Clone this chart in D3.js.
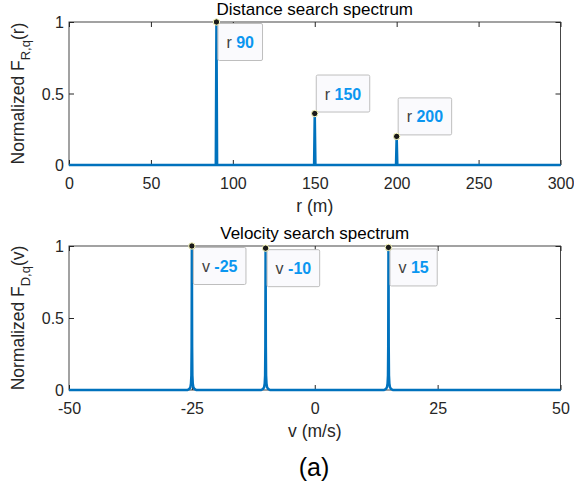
<!DOCTYPE html>
<html>
<head>
<meta charset="utf-8">
<script src="https://cdn.jsdelivr.net/npm/d3@7"></script>
<style>
  html, body { margin: 0; padding: 0; background: #fff; }
  svg { display: block; font-family: "Liberation Sans", Arial, Helvetica, sans-serif; }
</style>
</head>
<body>
<svg id="chart" width="574" height="488"></svg>
<script>
// ---- Data ----
const rSamples = [0, 89.6, 90, 90.4, 149.6, 150, 150.4, 199.6, 200, 200.4, 300];
const fRValues = [0, 0, 1, 0, 0, 0.36, 0, 0, 0.2, 0, 0];

const vSamples = [-50,
  -25.9, -25.5, -25.3, -25.18, -25.1, -25.05, -25, -24.95, -24.9, -24.82, -24.7, -24.5, -24.1,
  -10.9, -10.5, -10.3, -10.18, -10.1, -10.05, -10, -9.95, -9.9, -9.82, -9.7, -9.5, -9.1,
  14.1, 14.5, 14.7, 14.82, 14.9, 14.95, 15, 15.05, 15.1, 15.18, 15.3, 15.5, 15.9,
  50];
const fDValues = [0,
  0, 0.008, 0.02, 0.045, 0.1, 0.3, 1, 0.3, 0.1, 0.045, 0.02, 0.008, 0,
  0, 0.008, 0.02, 0.045, 0.1, 0.3, 0.985, 0.3, 0.1, 0.045, 0.02, 0.008, 0,
  0, 0.008, 0.02, 0.045, 0.1, 0.3, 0.99, 0.3, 0.1, 0.045, 0.02, 0.008, 0,
  0];

const rTicks = [0, 50, 100, 150, 200, 250, 300];
const vTicks = [-50, -25, 0, 25, 50];
const yTicks = [0, 0.5, 1];

const rTipX = [90, 150, 200];
const rTipY = [1, 0.36, 0.2];
const vTipX = [-25, -10, 15];
const vTipY = [1, 0.985, 0.99];

// ---- Drawing ----
const svg = d3.select("#chart");
const FONT_TICK = 16, FONT_LABEL = 17.5;
const AX = "#262626";
const LINE = "#0072BD";
const fmt = d => String(d);  // plain hyphen-minus, as in the reference

function panel(opts) {
  const { left, right, top, bottom, xDomain, xTicks, xs, ys, title, xlabel, ysub, yarg, tipsX, tipsY, tipName } = opts;
  const x = d3.scaleLinear().domain(xDomain).range([left, right]);
  const y = d3.scaleLinear().domain([0, 1]).range([bottom, top]);
  const g = svg.append("g");

  g.append("rect").attr("x", left).attr("y", top)
    .attr("width", right - left).attr("height", bottom - top)
    .attr("fill", "none").attr("stroke", AX).attr("stroke-width", 1).attr("stroke-opacity", 0.85);

  const xb = d3.axisBottom(x).tickValues(xTicks).tickSize(-5).tickFormat(fmt);
  const xt = d3.axisTop(x).tickValues(xTicks).tickSize(-5).tickFormat("");
  const yl = d3.axisLeft(y).tickValues(yTicks).tickSize(-5).tickFormat(fmt);
  const yr = d3.axisRight(y).tickValues(yTicks).tickSize(-5).tickFormat("");

  const styleAxis = sel => {
    sel.select(".domain").remove();
    sel.selectAll(".tick line").attr("stroke", AX).attr("stroke-width", 1);
    sel.selectAll(".tick text").attr("fill", AX).style("font-size", FONT_TICK + "px")
      .style("font-family", '"Liberation Sans", Arial, Helvetica, sans-serif');
  };
  g.append("g").attr("transform", `translate(0,${bottom})`).call(xb).call(styleAxis)
    .selectAll(".tick text").attr("dy", null).attr("y", 23.5);
  g.append("g").attr("transform", `translate(0,${top})`).call(xt).call(styleAxis);
  g.append("g").attr("transform", `translate(${left},0)`).call(yl).call(styleAxis)
    .selectAll(".tick text").attr("x", -5).attr("dy", "0.35em");
  g.append("g").attr("transform", `translate(${right},0)`).call(yr).call(styleAxis);

  const pts = xs.map((d, i) => [d, ys[i]]);
  g.append("path").datum(pts)
    .attr("fill", "none").attr("stroke", LINE).attr("stroke-width", 2.5)
    .attr("stroke-linejoin", "round")
    .attr("d", d3.line().x(d => x(d[0])).y(d => y(d[1])));

  g.append("text").attr("x", (left + right) / 2).attr("y", top - 7)
    .attr("text-anchor", "middle").attr("fill", "#000").style("font-size", "17px")
    .text(title);

  g.append("text").attr("x", (left + right) / 2).attr("y", bottom + 46.5)
    .attr("text-anchor", "middle").attr("fill", AX).style("font-size", FONT_LABEL + "px")
    .text(xlabel);

  const yt = g.append("text")
    .attr("transform", `translate(23.5,${(top + bottom) / 2}) rotate(-90)`)
    .attr("text-anchor", "middle").attr("fill", AX).style("font-size", FONT_LABEL + "px");
  yt.append("tspan").text("Normalized F");
  yt.append("tspan").attr("dy", 6).style("font-size", "13px").text(ysub);
  yt.append("tspan").attr("dy", -6).text(yarg);

  tipsX.forEach((tx, i) => {
    const px = x(tx), py = y(tipsY[i]);
    const below = tipsY[i] > 0.8;
    const tg = g.append("g");
    const t = tg.append("text").style("font-size", "16px");
    t.append("tspan").attr("fill", "#404040").text(tipName + " ");
    t.append("tspan").attr("fill", "#0A96F0").attr("font-weight", "bold").text(fmt(tx));
    const w = t.node().getComputedTextLength();
    const bw = w + 17, bh = 37;
    const bx = px + 1.5;
    const by = below ? py + 1.5 : py - 1.5 - bh;
    tg.insert("rect", "text").attr("x", bx).attr("y", by).attr("width", bw).attr("height", bh)
      .attr("rx", 1.5).attr("fill", "#FAFAFD").attr("stroke", "#BEBEBE").attr("stroke-width", 1);
    t.attr("x", bx + 8.5).attr("y", by + bh / 2 + 6);
    g.append("circle").attr("cx", px).attr("cy", py).attr("r", 3.2)
      .attr("fill", "#1a1a1a").attr("stroke", "#FFFFC0").attr("stroke-width", 1);
  });
}

panel({
  left: 69, right: 560.5, top: 22, bottom: 165,
  xDomain: [0, 300], xTicks: rTicks, xs: rSamples, ys: fRValues,
  title: "Distance search spectrum", xlabel: "r (m)", ysub: "R,q", yarg: "(r)",
  tipsX: rTipX, tipsY: rTipY, tipName: "r"
});
panel({
  left: 69, right: 560.5, top: 246, bottom: 390,
  xDomain: [-50, 50], xTicks: vTicks, xs: vSamples, ys: fDValues,
  title: "Velocity search spectrum", xlabel: "v (m/s)", ysub: "D,q", yarg: "(v)",
  tipsX: vTipX, tipsY: vTipY, tipName: "v"
});

svg.append("text").attr("x", 314).attr("y", 476).attr("text-anchor", "middle")
  .attr("fill", "#000").style("font-size", "25px").text("(a)");
</script>
</body>
</html>
